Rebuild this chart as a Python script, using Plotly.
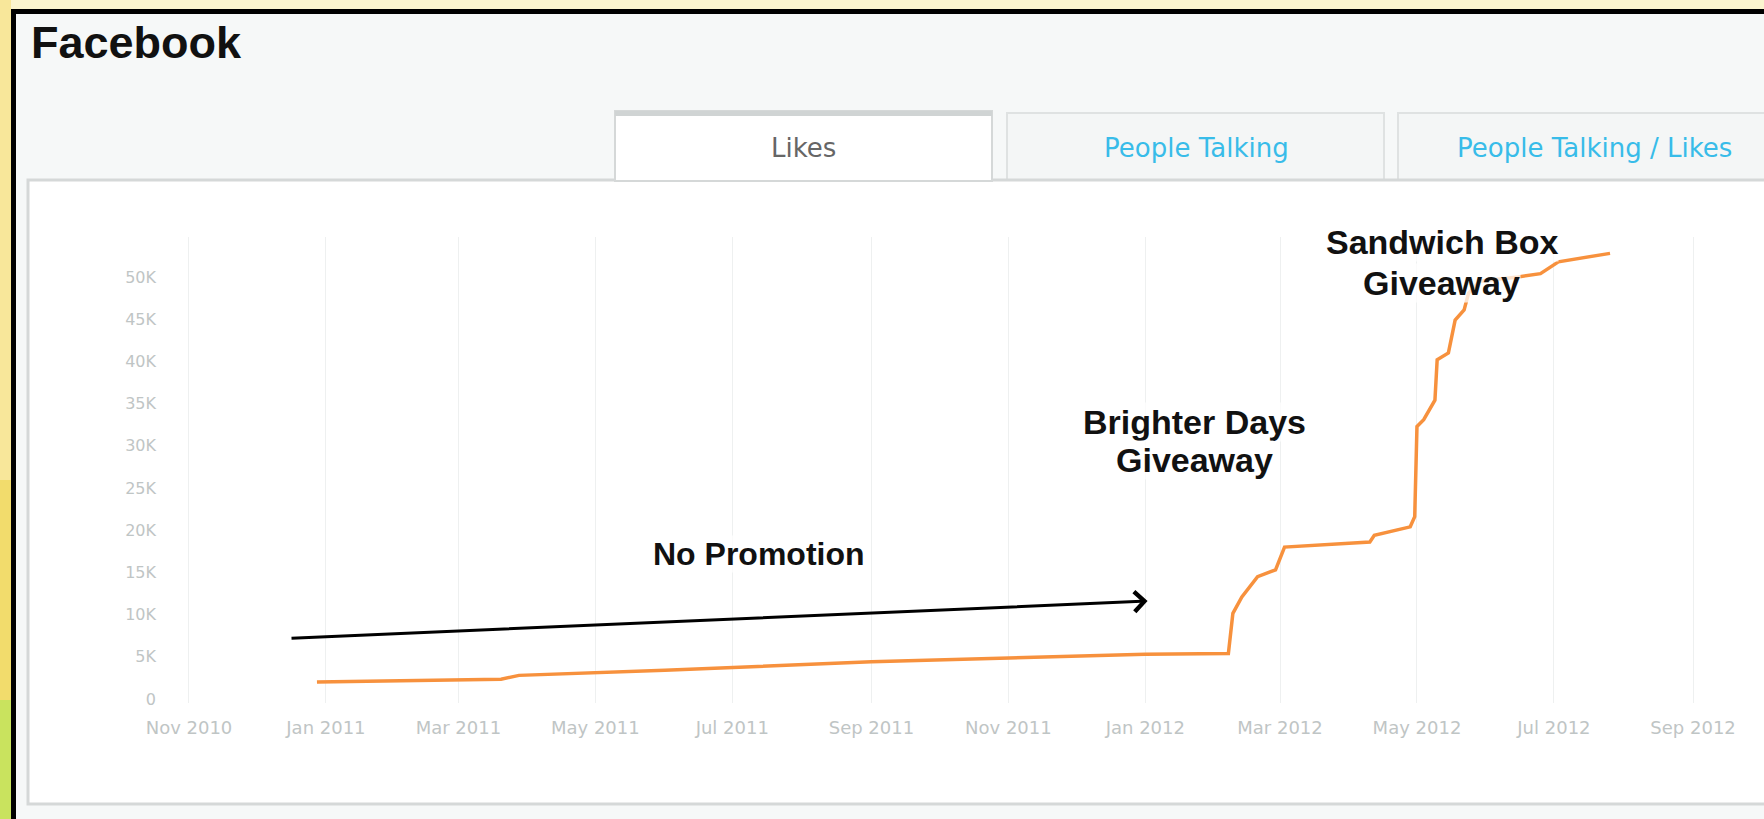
import plotly.graph_objects as go

# ---------------- data ----------------
dates = ["2010-12-28", "2011-03-20", "2011-03-28", "2011-06-01", "2011-09-01",
         "2011-11-15", "2012-01-01", "2012-02-07", "2012-02-09", "2012-02-13",
         "2012-02-20", "2012-02-28", "2012-03-03", "2012-04-10", "2012-04-12",
         "2012-04-28", "2012-04-30", "2012-05-01", "2012-05-04", "2012-05-09",
         "2012-05-10", "2012-05-15", "2012-05-18", "2012-05-22", "2012-05-24",
         "2012-05-29", "2012-06-15", "2012-06-25", "2012-07-03", "2012-07-26"]
likes = [2000, 2350, 2800, 3400, 4400,
         5000, 5300, 5400, 10150, 12100,
         14500, 15300, 18000, 18600, 19400,
         20400, 21600, 32300, 33100, 35400,
         40200, 41000, 44900, 46100, 48100,
         49500, 50000, 50400, 51800, 52800]

x_tick_dates = ["2010-11-01", "2011-01-01", "2011-03-01", "2011-05-01", "2011-07-01",
                "2011-09-01", "2011-11-01", "2012-01-01", "2012-03-01", "2012-05-01",
                "2012-07-01", "2012-09-01"]
x_tick_labels = ["Nov 2010", "Jan 2011", "Mar 2011", "May 2011", "Jul 2011",
                 "Sep 2011", "Nov 2011", "Jan 2012", "Mar 2012", "May 2012",
                 "Jul 2012", "Sep 2012"]
y_tick_vals = [0, 5000, 10000, 15000, 20000, 25000, 30000, 35000, 40000, 45000, 50000]
y_tick_labels = ["0", "5K", "10K", "15K", "20K", "25K", "30K", "35K", "40K", "45K", "50K"]

tab_labels = ["Likes", "People Talking", "People Talking / Likes"]
title_text = "Facebook"

# annotation texts and anchors (date, value)
notes = [
    ("No Promotion", "2011-07-13", 17240, 32),
    ("Brighter Days", "2012-01-23", 32850, 34),
    ("Giveaway", "2012-01-23", 28300, 34),
    ("Sandwich Box", "2012-05-12", 54200, 34),
    ("Giveaway", "2012-05-12", 49250, 34),
]
arrow_tail = ("2010-12-16", 7200)
arrow_head = ("2012-01-02", 11600)

# ---------------- layout geometry ----------------
W, H = 1764, 819
L, R, T, B = 183, 0, 237, 116
PW, PH = W - L - R, H - T - B


def px(x):
    return (x - L) / PW


def py(y):
    return (H - B - y) / PH


def rect(x0, y0, x1, y1, fill, line=None, lw=0, layer="below"):
    return dict(type="rect", xref="paper", yref="paper",
                x0=px(x0), x1=px(x1), y0=py(y1), y1=py(y0),
                fillcolor=fill, line=dict(color=line or fill, width=lw),
                layer=layer)


fig = go.Figure()
fig.add_trace(go.Scatter(
    x=dates, y=likes, mode="lines",
    line=dict(color="#f7913d", width=3.5),
    hoverinfo="skip", showlegend=False))

shapes = [
    # outer yellow/green strips
    rect(0, 0, W, 10, "#fbf5cf"),
    rect(0, 0, 11, 480, "#f8e79a"),
    rect(0, 480, 11, 700, "#f2dc6c"),
    rect(0, 700, 11, H, "#c9e35e"),
    # black frame
    rect(11, 9, W, 14, "#000000"),
    rect(11, 9, 16, H, "#000000"),
    # tabs
    rect(1007, 113, 1384, 181, "#f4f6f6", "#dfe2e2", 2),
    rect(1398, 113, 1800, 181, "#f4f6f6", "#dfe2e2", 2),
    # chart panel
    rect(28, 180, 1800, 804, "#ffffff", "#d5d8d8", 3),
    # active tab
    rect(615, 111, 992, 181, "#ffffff", "#d5d8d8", 2),
    rect(615, 111, 992, 116, "#d0d4d4"),
]

annotations = [
    dict(text="<b>%s</b>" % title_text, xref="paper", yref="paper",
         x=px(29), y=py(42), xanchor="left", yanchor="middle", showarrow=False,
         font=dict(family="Liberation Sans, Arial", size=45, color="#111111")),
]
tab_centers = [803, 1196, 1594]
tab_colors = ["#666666", "#38bce9", "#38bce9"]
for lab, cx, col in zip(tab_labels, tab_centers, tab_colors):
    annotations.append(dict(text=lab, xref="paper", yref="paper", x=px(cx), y=py(148),
                            xanchor="center", yanchor="middle", showarrow=False,
                            font=dict(family="DejaVu Sans", size=26, color=col)))

for txt, d, v, sz in notes:
    annotations.append(dict(text="<b>%s</b>" % txt, x=d, y=v, xref="x", yref="y",
                            xanchor="center", yanchor="middle", showarrow=False,
                            bgcolor="rgba(255,255,255,0.75)", borderpad=0,
                            font=dict(family="Liberation Sans, Arial", size=sz, color="#111111")))

annotations.append(dict(text="", x=arrow_head[0], y=arrow_head[1],
                        ax=arrow_tail[0], ay=arrow_tail[1],
                        xref="x", yref="y", axref="x", ayref="y",
                        showarrow=True, arrowhead=4, arrowsize=1.3, arrowwidth=3,
                        arrowcolor="#000000", standoff=0))

fig.update_layout(
    width=W, height=H,
    margin=dict(l=L, r=R, t=T, b=B, pad=0),
    paper_bgcolor="#f6f8f8",
    plot_bgcolor="rgba(0,0,0,0)",
    shapes=shapes,
    annotations=annotations,
    showlegend=False,
)
fig.update_xaxes(
    type="date", range=["2010-10-29 08:00", "2012-10-02 14:00"],
    tickmode="array", tickvals=x_tick_dates, ticktext=x_tick_labels,
    showgrid=True, gridcolor="#eef0f0", gridwidth=1,
    zeroline=False, showline=False, ticks="",
    tickfont=dict(family="DejaVu Sans", size=18, color="#bfc5c5"),
    ticklabelstandoff=12,
)
fig.update_yaxes(
    range=[-474, 54740],
    tickmode="array", tickvals=y_tick_vals, ticktext=y_tick_labels,
    showgrid=False, zeroline=False, showline=False, ticks="",
    tickfont=dict(family="DejaVu Sans", size=16, color="#bfc5c5"),
    ticklabelstandoff=26,
)

fig.write_html("out.html")
